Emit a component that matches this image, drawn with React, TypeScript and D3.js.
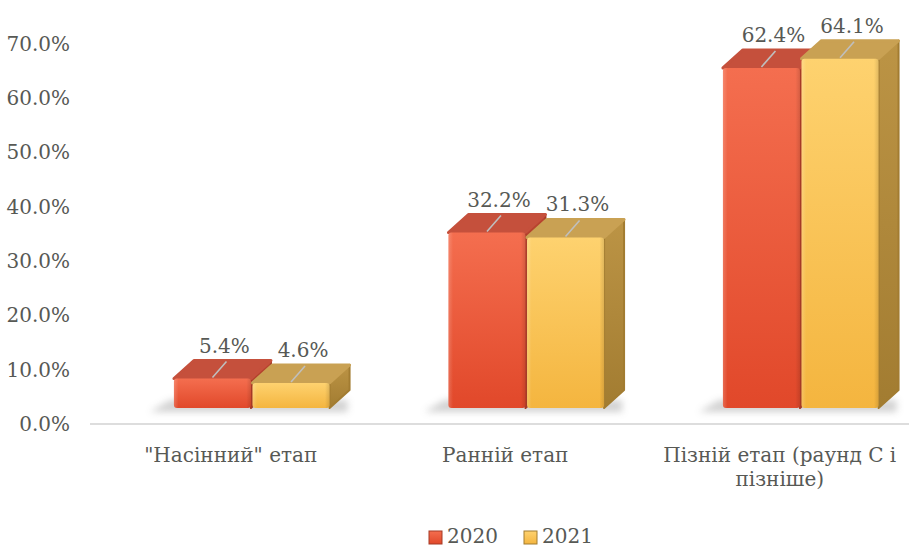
import * as d3 from "d3";
import { useEffect, useRef } from "react";

const categories = ['"Насінний" етап', "Ранній етап", "Пізній етап (раунд С і пізніше)"];
const categoryLines = [['"Насінний" етап'], ["Ранній етап"], ["Пізній етап (раунд С і", "пізніше)"]];
const series = ["2020", "2021"];
const values2020 = [5.4, 32.2, 62.4];
const values2021 = [4.6, 31.3, 64.1];
const yTicks = [0, 10, 20, 30, 40, 50, 60, 70];

const W = 909;
const H = 548;
const FONT = "'DejaVu Serif', 'Liberation Serif', serif";
const TEXT = "#575955";
const DX = 20; // depth offset of the 3d bars
const DY = -18;

const COLORS: Record<string, { front: [string, string]; top: string; side: [string, string] }> = {
  "2020": { front: ["#F46E4F", "#E1482A"], top: "#C5503C", side: ["#B8442F", "#A53A27"] },
  "2021": { front: ["#FED26F", "#F4B53F"], top: "#C9A153", side: ["#BC9445", "#A27C31"] },
};

export default function App() {
  const ref = useRef<SVGSVGElement>(null);

  useEffect(() => {
    if (!ref.current) return;
    const svg = d3.select(ref.current);
    svg.selectAll("*").remove();
    svg.attr("width", W).attr("height", H);

    const defs = svg.append("defs");
    series.forEach((s) => {
      const c = COLORS[s];
      const gf = defs.append("linearGradient").attr("id", `front${s}`).attr("x1", 0).attr("y1", 0).attr("x2", 0).attr("y2", 1);
      gf.append("stop").attr("offset", 0).attr("stop-color", c.front[0]);
      gf.append("stop").attr("offset", 1).attr("stop-color", c.front[1]);
      const gs = defs.append("linearGradient").attr("id", `side${s}`).attr("x1", 0).attr("y1", 0).attr("x2", 0).attr("y2", 1);
      gs.append("stop").attr("offset", 0).attr("stop-color", c.side[0]);
      gs.append("stop").attr("offset", 1).attr("stop-color", c.side[1]);
    });
    const edge = defs.append("linearGradient").attr("id", "edge").attr("x1", 0).attr("y1", 0).attr("x2", 1).attr("y2", 0);
    edge.append("stop").attr("offset", 0).attr("stop-color", "#fff").attr("stop-opacity", 0.18);
    edge.append("stop").attr("offset", 0.06).attr("stop-color", "#fff").attr("stop-opacity", 0);
    edge.append("stop").attr("offset", 0.94).attr("stop-color", "#000").attr("stop-opacity", 0);
    edge.append("stop").attr("offset", 1).attr("stop-color", "#000").attr("stop-opacity", 0.12);
    defs.append("filter").attr("id", "blur").attr("x", -0.5).attr("y", -2).attr("width", 2).attr("height", 5)
      .append("feGaussianBlur").attr("stdDeviation", 3.5);

    // scales: axis on back wall, bars measured on front face
    const yAxis = d3.scaleLinear().domain([0, 70]).range([424, 43.5]);
    const yBar = d3.scaleLinear().domain([0, 70]).range([408, 26.5]);
    const x0 = d3.scaleBand<string>().domain(categories).range([114.5, 938]).paddingInner(0.433).paddingOuter(0.2165);
    const x1 = d3.scaleBand<string>().domain(series).range([0, x0.bandwidth()]).paddingInner(0.02);

    // baseline
    svg.append("line").attr("x1", 90).attr("x2", W).attr("y1", yAxis(0)).attr("y2", yAxis(0))
      .attr("stroke", "#DDDDDD").attr("stroke-width", 2);

    // y tick labels
    svg.append("g").selectAll("text").data(yTicks).join("text")
      .attr("x", 70).attr("y", (d) => yAxis(d)).attr("dy", "0.35em")
      .attr("text-anchor", "end").style("font-family", FONT).attr("font-size", 20).attr("fill", TEXT)
      .text((d) => `${d.toFixed(1)}%`);

    const valuesBy: Record<string, number[]> = { "2020": values2020, "2021": values2021 };

    categories.forEach((cat, ci) => {
      const gx = x0(cat)!;
      const g = svg.append("g");
      const bottom = yBar(0);
      // floor shadow
      g.append("polygon")
        .attr("points", [
          [gx - 24, bottom + 4], [gx + x0.bandwidth() + DX - 2, bottom + 4],
          [gx + x0.bandwidth() + DX - 2, bottom - 8], [gx - 4, bottom - 8],
        ].map((p) => p.join(",")).join(" "))
        .attr("fill", "#8a8a8a").attr("opacity", 0.38).attr("filter", "url(#blur)");

      series.forEach((s) => {
        const v = valuesBy[s][ci];
        const c = COLORS[s];
        const left = gx + x1(s)!;
        const right = left + x1.bandwidth();
        const top = yBar(v);
        // side face
        g.append("polygon")
          .attr("points", [[right, top], [right + DX, top + DY], [right + DX, bottom + DY], [right, bottom]].map((p) => p.join(",")).join(" "))
          .attr("fill", `url(#side${s})`).attr("stroke", c.side[1]).attr("stroke-width", 2).attr("stroke-linejoin", "round");
        // top face
        g.append("polygon")
          .attr("points", [[left, top], [left + DX, top + DY], [right + DX, top + DY], [right, top]].map((p) => p.join(",")).join(" "))
          .attr("fill", c.top).attr("stroke", c.top).attr("stroke-width", 3).attr("stroke-linejoin", "round");
        // front face
        g.append("rect").attr("x", left).attr("y", top).attr("width", x1.bandwidth()).attr("height", bottom - top)
          .attr("rx", 3).attr("fill", `url(#front${s})`);
        g.append("rect").attr("x", left).attr("y", top).attr("width", x1.bandwidth()).attr("height", bottom - top)
          .attr("rx", 3).attr("fill", "url(#edge)");
        // leader line + data label
        const cx = left + x1.bandwidth() / 2;
        g.append("line").attr("x1", cx).attr("y1", top - 1).attr("x2", cx + 14).attr("y2", top - 17)
          .attr("stroke", "#BFBFBF").attr("stroke-width", 1.6);
        g.append("text").attr("x", cx + 12).attr("y", top - 26).attr("text-anchor", "middle")
          .style("font-family", FONT).attr("font-size", 20).attr("fill", TEXT)
          .text(`${v.toFixed(1)}%`);
      });

      // category label
      const t = svg.append("text").attr("text-anchor", "middle").style("font-family", FONT)
        .attr("font-size", 20).attr("fill", TEXT);
      categoryLines[ci].forEach((line, li) => {
        t.append("tspan").attr("x", gx + x0.bandwidth() / 2 - 21).attr("y", 462 + li * 24).text(line);
      });
    });

    // legend
    const legendX = [429, 524];
    const lg = svg.append("g");
    series.forEach((s, i) => {
      const c = COLORS[s];
      lg.append("rect").attr("x", legendX[i]).attr("y", 531).attr("width", 13).attr("height", 13)
        .attr("fill", `url(#front${s})`).attr("stroke", c.side[1]).attr("stroke-width", 1);
      lg.append("text").attr("x", legendX[i] + 18).attr("y", 543).style("font-family", FONT)
        .attr("font-size", 20).attr("fill", TEXT).text(s);
    });
  }, []);

  return <svg ref={ref} style={{ position: "absolute", left: 0, top: 0, background: "#fff" }} />;
}
